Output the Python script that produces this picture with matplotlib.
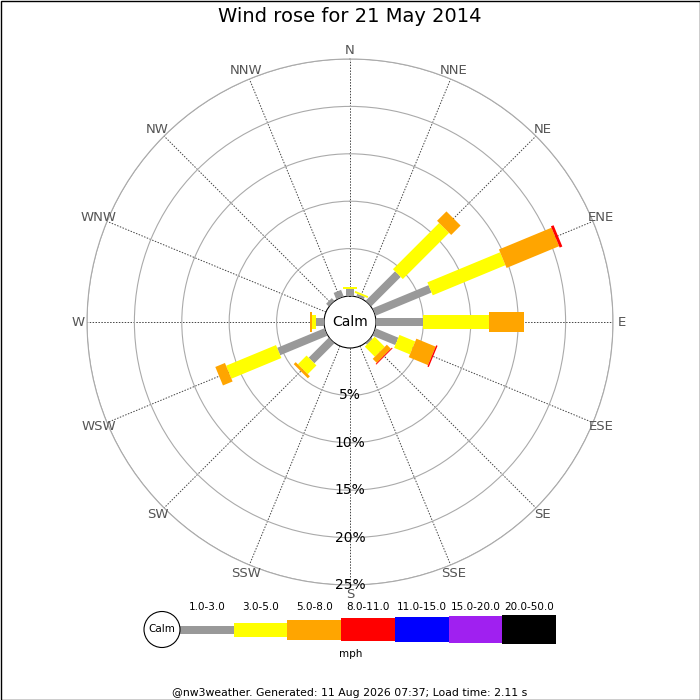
import numpy as np
import matplotlib
matplotlib.use("Agg")
import matplotlib.pyplot as plt
from matplotlib.patches import Circle, Rectangle

dirs = ["N", "NNE", "NE", "ENE", "E", "ESE", "SE", "SSE",
        "S", "SSW", "SW", "WSW", "W", "WNW", "NW", "NNW"]
# % of time in each direction, per speed class (mph)
spd_1_3 = [0.7, 0.3, 4.4, 6.4, 5.0, 2.6, 0.2, 0, 0, 0, 3.0, 5.4, 0.8, 0, 0.4, 0.75]
spd_3_5 = [0.2, 0.2, 6.9, 8.3, 6.9, 1.8, 1.5, 0, 0, 0, 1.3, 5.7, 0.5, 0, 0, 0]
spd_5_8 = [0, 0, 1.4, 6.0, 3.7, 2.2, 0.6, 0, 0, 0, 0.3, 1.1, 0.2, 0, 0, 0]
spd_8_11 = [0, 0, 0, 0.3, 0, 0.15, 0.1, 0, 0, 0, 0, 0, 0, 0, 0, 0]
speed_labels = ["1.0-3.0", "3.0-5.0", "5.0-8.0", "8.0-11.0", "11.0-15.0", "15.0-20.0", "20.0-50.0"]
speed_colors = ["#999999", "#ffff00", "#ffa500", "#ff0000", "#0000ff", "#a020f0", "#000000"]
ring_pcts = [5, 10, 15, 20, 25]

widths_px = [8, 14, 20, 23, 25, 27, 29]
pt = 0.72  # points per pixel at 100 dpi

fig = plt.figure(figsize=(7, 7), dpi=100)
fig.patch.set_facecolor("white")

R = 263
r0 = 26 / ((R - 26) / 25)  # calm circle offset in % units
half = R / 700
ax = fig.add_axes([0.5 - half, (1 - 322 / 700) - half, 2 * half, 2 * half], projection="polar")
ax.set_theta_zero_location("N")
ax.set_theta_direction(-1)
ax.set_ylim(0, 25)
ax.set_rorigin(-r0)

theta = np.deg2rad(np.arange(16) * 22.5)
ax.set_xticks(theta)
ax.set_xticklabels([])
ax.set_yticks(ring_pcts)
ax.set_yticklabels([])
ax.xaxis.grid(True, color="#444444", linestyle=(0, (1.5, 1.5)), linewidth=0.7)
ax.yaxis.grid(True, color="#aaaaaa", linestyle="-", linewidth=0.8)
ax.spines["polar"].set_color("#aaaaaa")
ax.spines["polar"].set_linewidth(0.8)

series = [spd_1_3, spd_3_5, spd_5_8, spd_8_11]
base = np.zeros(16)
for k, vals in enumerate(series):
    vals = np.array(vals, dtype=float)
    for i in range(16):
        if vals[i] > 0:
            ax.plot([theta[i], theta[i]], [base[i], base[i] + vals[i]],
                    color=speed_colors[k], lw=widths_px[k] * pt,
                    solid_capstyle="butt", zorder=3 + k * 0.01)
    base += vals

lab_r = 272 / R * (25 + r0) - r0
for i, d in enumerate(dirs):
    ax.text(theta[i], lab_r, d, ha="center", va="center", fontsize=9.5, color="#555555")

for r in ring_pcts:
    ax.text(np.pi, r, f"{r}%", ha="center", va="center", fontsize=10, color="black", zorder=6)

calm = Circle((0.5, 0.5), 24 / (2 * R), transform=ax.transAxes,
              facecolor="white", edgecolor="black", lw=0.8, zorder=5)
ax.add_patch(calm)
ax.text(0.5, 0.5, "Calm", transform=ax.transAxes, ha="center", va="center",
        fontsize=10, zorder=6)

# legend + text overlay in pixel coords
lg = fig.add_axes([0, 0, 1, 1], facecolor="none")
lg.set_xlim(0, 700)
lg.set_ylim(700, 0)
lg.axis("off")

x0 = 180
seg = 53.7
for k, lab in enumerate(speed_labels):
    h = widths_px[k]
    lg.add_patch(Rectangle((x0 + k * seg, 629.5 - h / 2), seg, h, color=speed_colors[k], lw=0))
    lg.text(x0 + k * seg + seg / 2, 607, lab, ha="center", va="center", fontsize=7.5)
lg.add_patch(Circle((162, 629.5), 18, facecolor="white", edgecolor="black", lw=0.8, zorder=3))
lg.text(162, 629.5, "Calm", ha="center", va="center", fontsize=7.5, zorder=4)
lg.text(351, 654, "mph", ha="center", va="center", fontsize=7.5)

lg.text(350, 17, "Wind rose for 21 May 2014", ha="center", va="center", fontsize=14)
lg.text(350, 693, "@nw3weather. Generated: 11 Aug 2026 07:37; Load time: 2.11 s",
        ha="center", va="center", fontsize=7.8)
lg.add_patch(Rectangle((0.5, 0.5), 699, 699, fill=False, edgecolor="black", lw=1))

fig.savefig("out.png", dpi=100)
